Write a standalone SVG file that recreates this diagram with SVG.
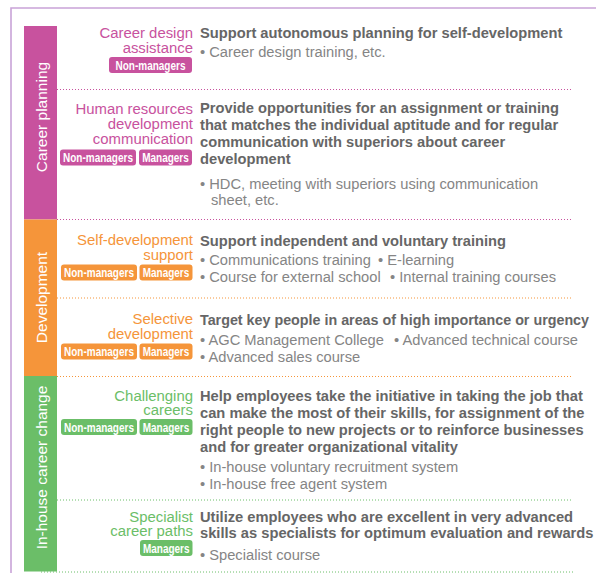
<svg xmlns="http://www.w3.org/2000/svg" width="596" height="573" viewBox="0 0 596 573">
<style>
.t{font-family:"Liberation Sans",Arial,sans-serif;font-size:14.7px}
.ttl{text-anchor:end;font-size:14.9px}
.pk{fill:#c8529e}.og{fill:#f5953a}.gr{fill:#6bbe68}
.d{font-weight:bold;fill:#666666}
.b{fill:#858585}
.band{font-family:"Liberation Sans",Arial,sans-serif;font-size:15.5px;fill:#ffffff;text-anchor:middle}
.bt{font-family:"Liberation Sans",Arial,sans-serif;font-weight:bold;font-size:13.5px;fill:#ffffff;text-anchor:middle}
.dl{stroke-width:1;stroke-dasharray:1 2;fill:none}
</style>
<rect width="596" height="573" fill="#ffffff"/>
<path d="M11,573 V8 H596" fill="none" stroke="#c9a3d7" stroke-width="1.6"/>

<g id="connectors">
<line class="dl" x1="57" y1="89.5" x2="573" y2="89.5" stroke="#c8529e"/>
<line class="dl" x1="57" y1="219.5" x2="573" y2="219.5" stroke="#c8529e"/>
<line class="dl" x1="57" y1="298" x2="573" y2="298" stroke="#f5953a"/>
<line class="dl" x1="57" y1="376.5" x2="573" y2="376.5" stroke="#f5953a"/>
<line class="dl" x1="57" y1="500" x2="573" y2="500" stroke="#6bbe68"/>
<line class="dl" x1="41" y1="572" x2="573" y2="572" stroke="#6bbe68"/>
</g>

<g id="band-career-planning">
<rect x="24" y="26" width="33" height="193.5" fill="#c8529e"/>
<text class="band" transform="translate(46.5,117) rotate(-90)">Career planning</text>
</g>
<g id="band-development">
<rect x="24" y="219.5" width="33" height="156.5" fill="#f5953a"/>
<text class="band" transform="translate(46.5,297.5) rotate(-90)">Development</text>
</g>
<g id="band-inhouse">
<rect x="24" y="376" width="33" height="195.5" fill="#6bbe68"/>
<text class="band" transform="translate(46.5,467.5) rotate(-90)">In-house career change</text>
</g>

<g id="node-career-design">
<text class="t ttl pk" x="193" y="38">Career design</text>
<text class="t ttl pk" x="193" y="53">assistance</text>
<rect x="109" y="57" width="83" height="16" rx="3" fill="#c8529e"/>
<text class="bt" transform="translate(150.5,69.8) scale(0.74,1)">Non-managers</text>
<text class="t d" x="200" y="38">Support autonomous planning for self-development</text>
<text class="t b" x="200" y="57">• Career design training, etc.</text>
</g>

<g id="node-hr-communication">
<text class="t ttl pk" x="193" y="114">Human resources</text>
<text class="t ttl pk" x="193" y="129">development</text>
<text class="t ttl pk" x="193" y="144">communication</text>
<rect x="60" y="149.5" width="76" height="16" rx="3" fill="#c8529e"/>
<text class="bt" transform="translate(98,162.3) scale(0.74,1)">Non-managers</text>
<rect x="139" y="149.5" width="53" height="16" rx="3" fill="#c8529e"/>
<text class="bt" transform="translate(165.5,162.3) scale(0.74,1)">Managers</text>
<text class="t d" x="200" y="113">Provide opportunities for an assignment or training</text>
<text class="t d" x="200" y="130">that matches the individual aptitude and for regular</text>
<text class="t d" x="200" y="147">communication with superiors about career</text>
<text class="t d" x="200" y="164">development</text>
<text class="t b" x="200" y="189">• HDC, meeting with superiors using communication</text>
<text class="t b" x="211" y="205">sheet, etc.</text>
</g>

<g id="node-self-development">
<text class="t ttl og" x="193" y="244.5">Self-development</text>
<text class="t ttl og" x="193" y="259.5">support</text>
<rect x="61" y="264.5" width="76" height="16" rx="3" fill="#f5953a"/>
<text class="bt" transform="translate(99,277.3) scale(0.74,1)">Non-managers</text>
<rect x="139.5" y="264.5" width="53" height="16" rx="3" fill="#f5953a"/>
<text class="bt" transform="translate(166,277.3) scale(0.74,1)">Managers</text>
<text class="t d" x="200" y="246">Support independent and voluntary training</text>
<text class="t b" x="200" y="265">• Communications training</text>
<text class="t b" x="378" y="265">• E-learning</text>
<text class="t b" x="200" y="282">• Course for external school</text>
<text class="t b" x="390" y="282">• Internal training courses</text>
</g>

<g id="node-selective-development">
<text class="t ttl og" x="193" y="323.5">Selective</text>
<text class="t ttl og" x="193" y="338.5">development</text>
<rect x="61" y="343.5" width="76" height="16" rx="3" fill="#f5953a"/>
<text class="bt" transform="translate(99,356.3) scale(0.74,1)">Non-managers</text>
<rect x="139.5" y="343.5" width="53" height="16" rx="3" fill="#f5953a"/>
<text class="bt" transform="translate(166,356.3) scale(0.74,1)">Managers</text>
<text class="t d" x="200" y="325" style="font-size:14.3px">Target key people in areas of high importance or urgency</text>
<text class="t b" x="200" y="345">• AGC Management College</text>
<text class="t b" x="394" y="345">• Advanced technical course</text>
<text class="t b" x="200" y="362">• Advanced sales course</text>
</g>

<g id="node-challenging-careers">
<text class="t ttl gr" x="193" y="400.5">Challenging</text>
<text class="t ttl gr" x="193" y="415">careers</text>
<rect x="61" y="419" width="76" height="16" rx="3" fill="#6bbe68"/>
<text class="bt" transform="translate(99,431.8) scale(0.74,1)">Non-managers</text>
<rect x="139.5" y="419" width="53" height="16" rx="3" fill="#6bbe68"/>
<text class="bt" transform="translate(166,431.8) scale(0.74,1)">Managers</text>
<text class="t d" x="200" y="401">Help employees take the initiative in taking the job that</text>
<text class="t d" x="200" y="418">can make the most of their skills, for assignment of the</text>
<text class="t d" x="200" y="435">right people to new projects or to reinforce businesses</text>
<text class="t d" x="200" y="452">and for greater organizational vitality</text>
<text class="t b" x="200" y="472">• In-house voluntary recruitment system</text>
<text class="t b" x="200" y="489">• In-house free agent system</text>
</g>

<g id="node-specialist-career-paths">
<text class="t ttl gr" x="193" y="521.5">Specialist</text>
<text class="t ttl gr" x="193" y="536">career paths</text>
<rect x="140" y="540" width="52.5" height="16" rx="3" fill="#6bbe68"/>
<text class="bt" transform="translate(166.25,552.8) scale(0.74,1)">Managers</text>
<text class="t d" x="200" y="522">Utilize employees who are excellent in very advanced</text>
<text class="t d" x="200" y="538">skills as specialists for optimum evaluation and rewards</text>
<text class="t b" x="200" y="560">• Specialist course</text>
</g>
</svg>
